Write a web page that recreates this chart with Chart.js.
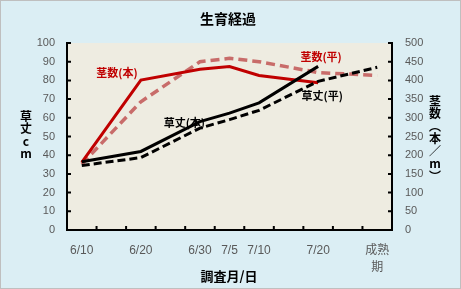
<!DOCTYPE html>
<html>
<head>
<meta charset="utf-8">
<script src="https://cdn.jsdelivr.net/npm/chart.js@4/dist/chart.umd.min.js"></script>
<style>
html, body { margin: 0; padding: 0; background: #dbeef4; }
canvas { display: block; }
</style>
</head>
<body>
<canvas id="seiikuKeika" width="461" height="289"></canvas>
<script>
// 調査日 (空欄は目盛りのみ)
const categories = ['6/10', '6/15', '6/20', '6/25', '6/30', '7/5', '7/10', '7/15', '7/20', '7/25', '成熟期'];
const tickLabels = ['6/10', '', '6/20', '', '6/30', '7/5', '7/10', '', '7/20', '', ['成熟', '期']];

// 草丈 cm (左軸)
const soujouHon = [36.5, null, 42, null, 58, 62.5, 68, null, 87.5, null, null];
const soujouHei = [34.5, null, 38.7, null, 54.5, 59, 64, null, 79.5, null, 87];
// 茎数 本/㎡ (右軸)
const keisuuHon = [181, null, 401, null, 430, 437, 413, null, 394, null, null];
const keisuuHei = [176, null, 343, null, 450, 459, 450, null, 421, null, 413];

const RED = '#c00000';
const PINK = 'rgb(200,108,106)';

// 系列ラベル (位置はカテゴリ番号と左軸の値)
const seriesNotes = [
    { text: '茎数(本)', color: RED, at: 1.19, val: 84 },
    { text: '茎数(平)', color: RED, at: 8.1, val: 92.5 },
    { text: '草丈(本)', color: '#000', at: 3.47, val: 57.2 },
    { text: '草丈(平)', color: '#000', at: 8.14, val: 71.7 }
];

const tickFont = { family: "'Liberation Sans', 'Noto Sans CJK JP'", size: 11 };
const jpBold = "bold 12px 'Noto Sans CJK JP'";

const backdrop = {
    id: 'backdrop',
    beforeDraw(chart) {
        const { ctx, chartArea: a, width, height } = chart;
        ctx.save();
        ctx.fillStyle = '#dbeef4';
        ctx.fillRect(0, 0, width, height);
        ctx.strokeStyle = '#bfbfbf';
        ctx.lineWidth = 1;
        ctx.strokeRect(0.5, 0.5, width - 1, height - 1);
        ctx.fillStyle = '#eeece1';
        ctx.fillRect(a.left, a.top, a.right - a.left, a.bottom - a.top);
        ctx.restore();
    }
};

const decorations = {
    id: 'decorations',
    afterDraw(chart) {
        const { ctx, chartArea: a, scales } = chart;
        ctx.save();
        // inner tick marks
        ctx.strokeStyle = '#000';
        ctx.lineWidth = 2;
        ctx.beginPath();
        scales.y.ticks.forEach(t => {
            const py = scales.y.getPixelForValue(t.value);
            ctx.moveTo(a.left, py); ctx.lineTo(a.left + 4, py);
        });
        scales.y2.ticks.forEach(t => {
            const py = scales.y2.getPixelForValue(t.value);
            ctx.moveTo(a.right, py); ctx.lineTo(a.right - 4, py);
        });
        for (let i = 1; i < categories.length; i++) {
            const px = scales.x.getPixelForValue(i - 0.5);
            ctx.moveTo(px, a.bottom); ctx.lineTo(px, a.bottom - 4);
        }
        ctx.stroke();

        // series notes
        ctx.font = "bold 11px 'Noto Sans CJK JP'";
        ctx.textAlign = 'center';
        ctx.textBaseline = 'middle';
        seriesNotes.forEach(n => {
            ctx.fillStyle = n.color;
            ctx.fillText(n.text, scales.x.getPixelForValue(n.at), scales.y.getPixelForValue(n.val));
        });

        // titles
        ctx.fillStyle = '#000';
        ctx.font = "bold 14px 'Noto Sans CJK JP'";
        ctx.fillText('生育経過', 228, 19);
        ctx.font = "bold 13px 'Noto Sans CJK JP'";
        ctx.fillText('調査月/日', 229, 276);

        ctx.font = jpBold;
        ['草', '丈', 'c', 'm'].forEach((c, i) => ctx.fillText(c, 26, 116 + i * 12.5));
        ['茎', '数', '︵', '本', '／', 'm', '︶'].forEach((c, i) => ctx.fillText(c, 435, 101 + i * 12.5));
        ctx.restore();
    }
};

const datasets = [
    { label: '草丈(本)', data: soujouHon, yAxisID: 'y', borderColor: '#000', borderWidth: 3 },
    { label: '草丈(平)', data: soujouHei, yAxisID: 'y', borderColor: '#000', borderWidth: 3, borderDash: [8, 4] },
    { label: '茎数(本)', data: keisuuHon, yAxisID: 'y2', borderColor: RED, borderWidth: 3 },
    { label: '茎数(平)', data: keisuuHei, yAxisID: 'y2', borderColor: PINK, borderWidth: 3.5, borderDash: [9, 5] }
].map(d => Object.assign({ pointRadius: 0, spanGaps: true, tension: 0, fill: false }, d));

const configSeiiku = {
    type: 'line',
    data: { labels: categories, datasets: datasets },
    plugins: [backdrop, decorations],
    options: {
        responsive: false,
        animation: false,
        layout: { padding: { top: 43, left: 0, right: 0, bottom: 0 } },
        plugins: { legend: { display: false }, tooltip: { enabled: false } },
        scales: {
            x: {
                offset: true,
                grid: { display: false, offset: true },
                border: { display: true, color: '#000', width: 2 },
                ticks: {
                    autoSkip: false, maxRotation: 0, padding: 5, color: '#595959',
                    font: { family: "'Liberation Sans', 'Noto Sans CJK JP'", size: 12, lineHeight: 1.35 },
                    callback: (v, i) => tickLabels[i]
                },
                afterFit: s => { s.height = 59; }
            },
            y: {
                position: 'left', min: 0, max: 100,
                grid: { display: false, drawTicks: false },
                border: { display: true, color: '#000', width: 2 },
                ticks: { stepSize: 10, padding: 12, color: '#595959', font: tickFont },
                afterFit: s => { s.width = 67; }
            },
            y2: {
                position: 'right', min: 0, max: 500,
                grid: { display: false, drawTicks: false },
                border: { display: true, color: '#000', width: 2 },
                ticks: { stepSize: 50, padding: 13, color: '#595959', font: tickFont },
                afterFit: s => { s.width = 69; }
            }
        }
    }
};

const chartSeiiku = new Chart(document.getElementById('seiikuKeika'), configSeiiku);
</script>
</body>
</html>
